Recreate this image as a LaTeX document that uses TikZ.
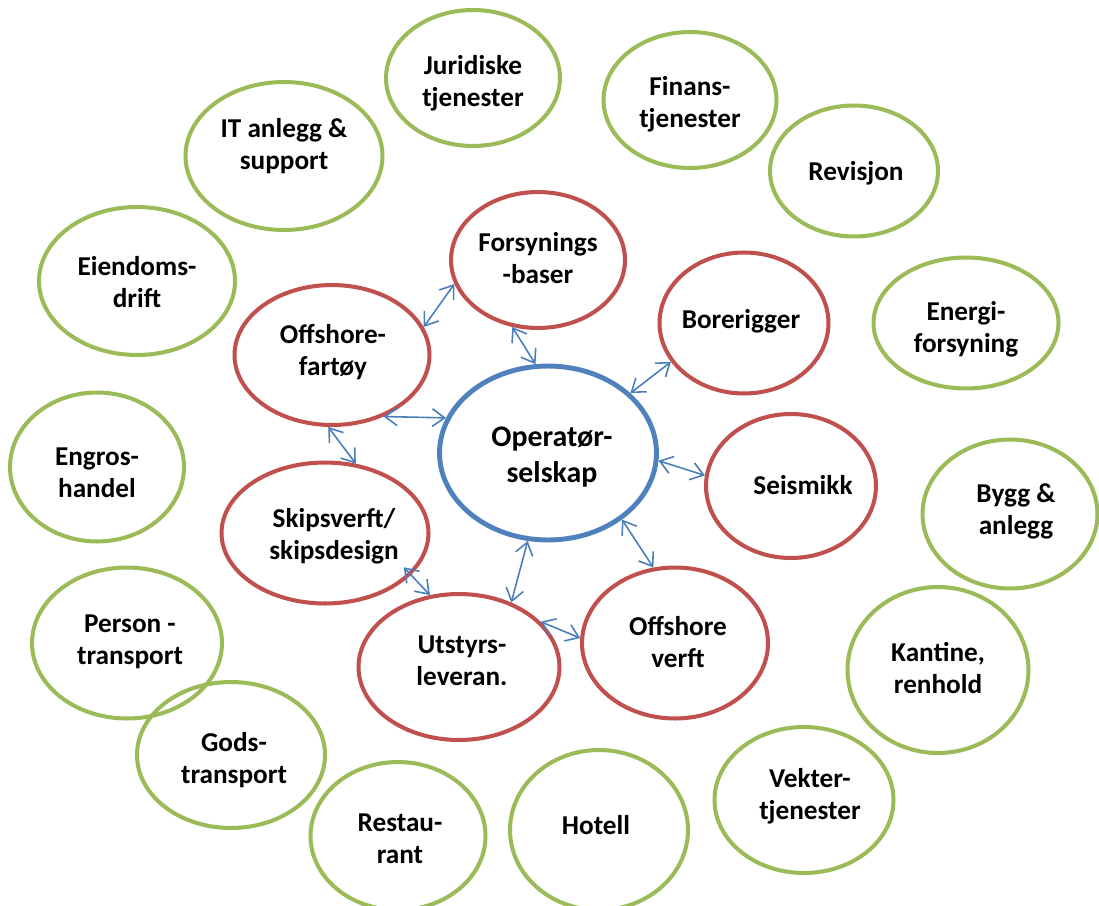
\documentclass[tikz,border=0pt]{standalone}
\usepackage{fontspec}
\setmainfont{Carlito}
\usetikzlibrary{arrows.meta,shapes.geometric}

\definecolor{ringgreen}{HTML}{9BBB59}
\definecolor{ringred}{HTML}{C0504D}
\definecolor{ringblue}{HTML}{4F81BD}
\definecolor{linkblue}{HTML}{4A7EBB}

\tikzset{
    ring/.style={ellipse, inner sep=0pt, line width=2.3pt},
    outer/.style={ring, draw=ringgreen},
    inner/.style={ring, draw=ringred},
    core/.style={ring, draw=ringblue, line width=2.8pt},
    lbl/.style={align=center, font=\bfseries\fontsize{15.5}{18.3}\selectfont},
    link/.style={draw=linkblue, line width=0.9pt,
        {Straight Barb[length=7pt,width=10pt]}-{Straight Barb[length=7pt,width=10pt]}}
}

\begin{document}
\begin{tikzpicture}[x=0.02cm, y=-0.02cm]
        \useasboundingbox (0,0) rectangle (1099,906);

        % ytre ring
        \node[outer, minimum width=3.48cm, minimum height=2.72cm] (jur) at (473,78) {};
        \node[lbl] (jur-t) at (473,83) {Juridiske\\tjenester};

        \node[outer, minimum width=3.46cm, minimum height=2.72cm] (fin) at (690,100) {};
        \node[lbl] (fin-t) at (690,104) {Finans-\\tjenester};

        \node[outer, minimum width=3.36cm, minimum height=2.62cm] (rev) at (854,171) {};
        \node[lbl] (rev-t) at (856,173) {Revisjon};

        \node[outer, minimum width=3.94cm, minimum height=2.96cm] (it) at (284,156) {};
        \node[lbl] (it-t) at (284,146) {IT anlegg \&\\support};

        \node[outer, minimum width=3.92cm, minimum height=2.96cm] (eiend) at (137,281) {};
        \node[lbl] (eiend-t) at (137,282) {Eiendoms-\\drift};

        \node[outer, minimum width=3.70cm, minimum height=2.62cm] (energi) at (966,323) {};
        \node[lbl] (energi-t) at (966,329) {Energi-\\forsyning};

        \node[outer, minimum width=3.48cm, minimum height=2.98cm] (engros) at (97,467) {};
        \node[lbl] (engros-t) at (97,473) {Engros-\\handel};

        \node[outer, minimum width=3.50cm, minimum height=2.98cm] (bygg) at (1010,514) {};
        \node[lbl] (bygg-t) at (1016,511) {Bygg \&\\anlegg};

        \node[outer, minimum width=3.80cm, minimum height=3.02cm] (person) at (127,643) {};
        \node[lbl] (person-t) at (130,642) {Person -\\transport};

        \node[outer, minimum width=3.62cm, minimum height=3.32cm] (kantine) at (938,670) {};
        \node[lbl] (kantine-t) at (938,668) {Kantine,\\renhold};

        \node[outer, minimum width=3.76cm, minimum height=2.92cm] (gods) at (231,755) {};
        \node[lbl] (gods-t) at (234,760) {Gods-\\transport};

        \node[outer, minimum width=3.58cm, minimum height=2.92cm] (vekter) at (804,800) {};
        \node[lbl] (vekter-t) at (810,796) {Vekter-\\tjenester};

        \node[outer, minimum width=3.56cm, minimum height=3.20cm] (hotell) at (599,830) {};
        \node[lbl] (hotell-t) at (596,825) {Hotell};

        \node[outer, minimum width=3.50cm, minimum height=2.96cm] (rest) at (398,836) {};
        \node[lbl] (rest-t) at (400,839) {Restau-\\rant};

        % indre ring
        \node[inner, minimum width=3.48cm, minimum height=2.72cm] (fors) at (538,260) {};
        \node[lbl] (fors-t) at (538,258) {Forsynings\\-baser};

        \node[inner, minimum width=3.38cm, minimum height=2.82cm] (bore) at (744,323) {};
        \node[lbl] (bore-t) at (741,321) {Borerigger};

        \node[inner, minimum width=3.90cm, minimum height=2.80cm] (fartoy) at (332,355) {};
        \node[lbl] (fartoy-t) at (333,352) {Offshore-\\fartøy};

        \node[inner, minimum width=3.40cm, minimum height=2.88cm] (seis) at (791,486) {};
        \node[lbl] (seis-t) at (803,485) {Seismikk};

        \node[inner, minimum width=4.14cm, minimum height=2.82cm] (skip) at (325,533) {};
        \node[lbl] (skip-t) at (334,536) {Skipsverft/\\skipsdesign};

        \node[inner, minimum width=4.02cm, minimum height=2.92cm] (utstyr) at (459,667) {};
        \node[lbl] (utstyr-t) at (462,661) {Utstyrs-\\leveran.};

        \node[inner, minimum width=3.72cm, minimum height=3.02cm] (verft) at (675,643) {};
        \node[lbl] (verft-t) at (678,642) {Offshore\\verft};

        \node[core, minimum width=4.34cm, minimum height=3.48cm] (oper) at (548,453) {};
        \node[lbl, font=\bfseries\fontsize{17}{21}\selectfont] (oper-t) at (552,457) {Operatør-\\selskap};

        % piler
        \draw[link] (fartoy.17) -- (fors.196);
        \draw[link] (fors.249) -- (oper.98);
        \draw[link] (oper.36) -- (bore.208);
        \draw[link] (oper.-4.6) -- (seis.173);
        \draw[link] (oper.-42) -- (verft.106);
        \draw[link] (oper.257) -- (utstyr.51);
        \draw[link] (utstyr.29) -- (verft.177);
        \draw[link, shorten <=-6pt] (skip.-26) -- (utstyr.112);
        \draw[link] (fartoy.267) -- (skip.66);
        \draw[link] (fartoy.-50) -- (oper.161);

    \end{tikzpicture}
\end{document}
